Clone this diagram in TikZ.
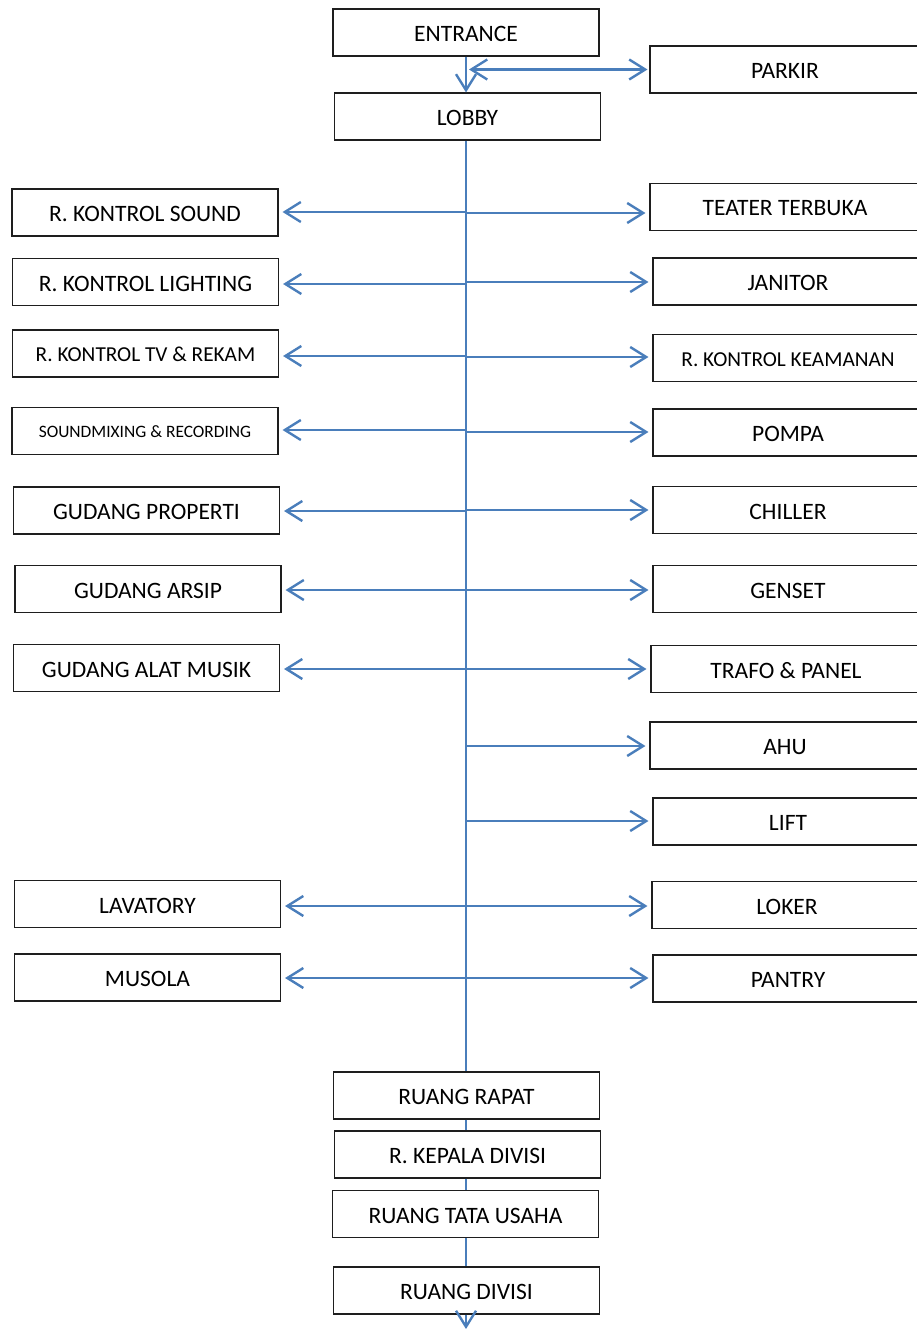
\documentclass[tikz,border=0pt]{standalone}
\usepackage{fontspec}
\setmainfont{Carlito}
\usetikzlibrary{arrows.meta}
\definecolor{linkblue}{RGB}{74,126,187}
\definecolor{boxline}{RGB}{30,30,30}
\begin{document}
\begin{tikzpicture}[x=1pt,y=-1pt,
  room/.style={draw=boxline,line width=1.1pt,minimum width=266pt,minimum height=47pt,inner sep=0pt,text height=18pt,text depth=0pt,font=\fontsize{23.5}{27}\selectfont},
  rroom/.style={room,minimum width=270pt},
  small/.style={text height=16.5pt,font=\fontsize{21.3}{25}\selectfont},
  tiny/.style={text height=12.5pt,font=\fontsize{17.4}{21}\selectfont},
  link/.style={draw=linkblue,line width=2.4pt},
  arr/.style={link,-{Straight Barb[length=16pt,width=20pt,line width=2.4pt]},shorten >=4pt},
  arrtwo/.style={link,{Straight Barb[length=16pt,width=20pt,line width=2.4pt]}-{Straight Barb[length=16pt,width=20pt,line width=2.4pt]},shorten >=2pt}]
\useasboundingbox (0,0) rectangle (916,1329);
% top
\node[room] (entrance) at (466,32.5) {ENTRANCE};
\node[rroom] (parkir) at (785,69.5) {PARKIR};
\node[room] (lobby) at (467.5,116.5) {LOBBY};
% left column
\node[room] (sound) at (145,212.5) {R. KONTROL SOUND};
\node[room] (lighting) at (145.5,282) {R. KONTROL LIGHTING};
\node[room,small] (tv) at (145.5,353.5) {R. KONTROL TV \& REKAM};
\node[room,tiny] (mixing) at (145,431) {SOUNDMIXING \& RECORDING};
\node[room] (properti) at (146.5,510.5) {GUDANG PROPERTI};
\node[room] (arsip) at (148,589) {GUDANG ARSIP};
\node[room] (musik) at (146.5,668) {GUDANG ALAT MUSIK};
\node[room] (lavatory) at (147.5,904) {LAVATORY};
\node[room] (musola) at (147.5,977.5) {MUSOLA};
% right column
\node[rroom] (teater) at (785,207) {TEATER TERBUKA};
\node[rroom] (janitor) at (788,281.5) {JANITOR};
\node[rroom,small] (keamanan) at (788,358) {R. KONTROL KEAMANAN};
\node[rroom] (pompa) at (788,432.5) {POMPA};
\node[rroom] (chiller) at (788,510) {CHILLER};
\node[rroom] (genset) at (788,589) {GENSET};
\node[rroom] (trafo) at (786,669) {TRAFO \& PANEL};
\node[rroom] (ahu) at (785,745.5) {AHU};
\node[rroom] (lift) at (788,821.5) {LIFT};
\node[rroom] (loker) at (787,905) {LOKER};
\node[rroom] (pantry) at (788,978.5) {PANTRY};
% bottom
\node[room] (rapat) at (466.5,1095.5) {RUANG RAPAT};
\node[room] (kepala) at (467.5,1154.5) {R. KEPALA DIVISI};
\node[room] (tatausaha) at (465.5,1214) {RUANG TATA USAHA};
\node[room] (divisi) at (466.5,1290.5) {RUANG DIVISI};
% spine coordinates
\coordinate (spine) at (466,0);
\coordinate (ej) at (469,69.5);
\coordinate (bottomend) at (466,1329);
% top connectors
\draw[arr,shorten >=0pt] (entrance.south -| spine) -- (lobby.north -| spine);
\draw[arrtwo] (ej) -- (parkir.west);
% spine
\draw[link] (lobby.south -| spine) -- (rapat.north -| spine);
\draw[link] (rapat.south -| spine) -- (kepala.north -| spine);
\draw[link] (kepala.south -| spine) -- (tatausaha.north -| spine);
\draw[link] (tatausaha.south -| spine) -- (divisi.north -| spine);
\draw[arr,shorten >=0pt] (divisi.south -| spine) -- (bottomend);
% left branches
\foreach \n/\y in {sound/212,lighting/284,tv/356,mixing/430,properti/511,arsip/590,musik/669,lavatory/906,musola/978}{
  \draw[arr] (466,\y) -- (\n.east |- 0,\y);
}
% right branches
\foreach \n/\y in {teater/213,janitor/282,keamanan/357,pompa/432,chiller/510,genset/590,trafo/669,ahu/746,lift/821,loker/906,pantry/978}{
  \draw[arr] (466,\y) -- (\n.west |- 0,\y);
}
\end{tikzpicture}
\end{document}
